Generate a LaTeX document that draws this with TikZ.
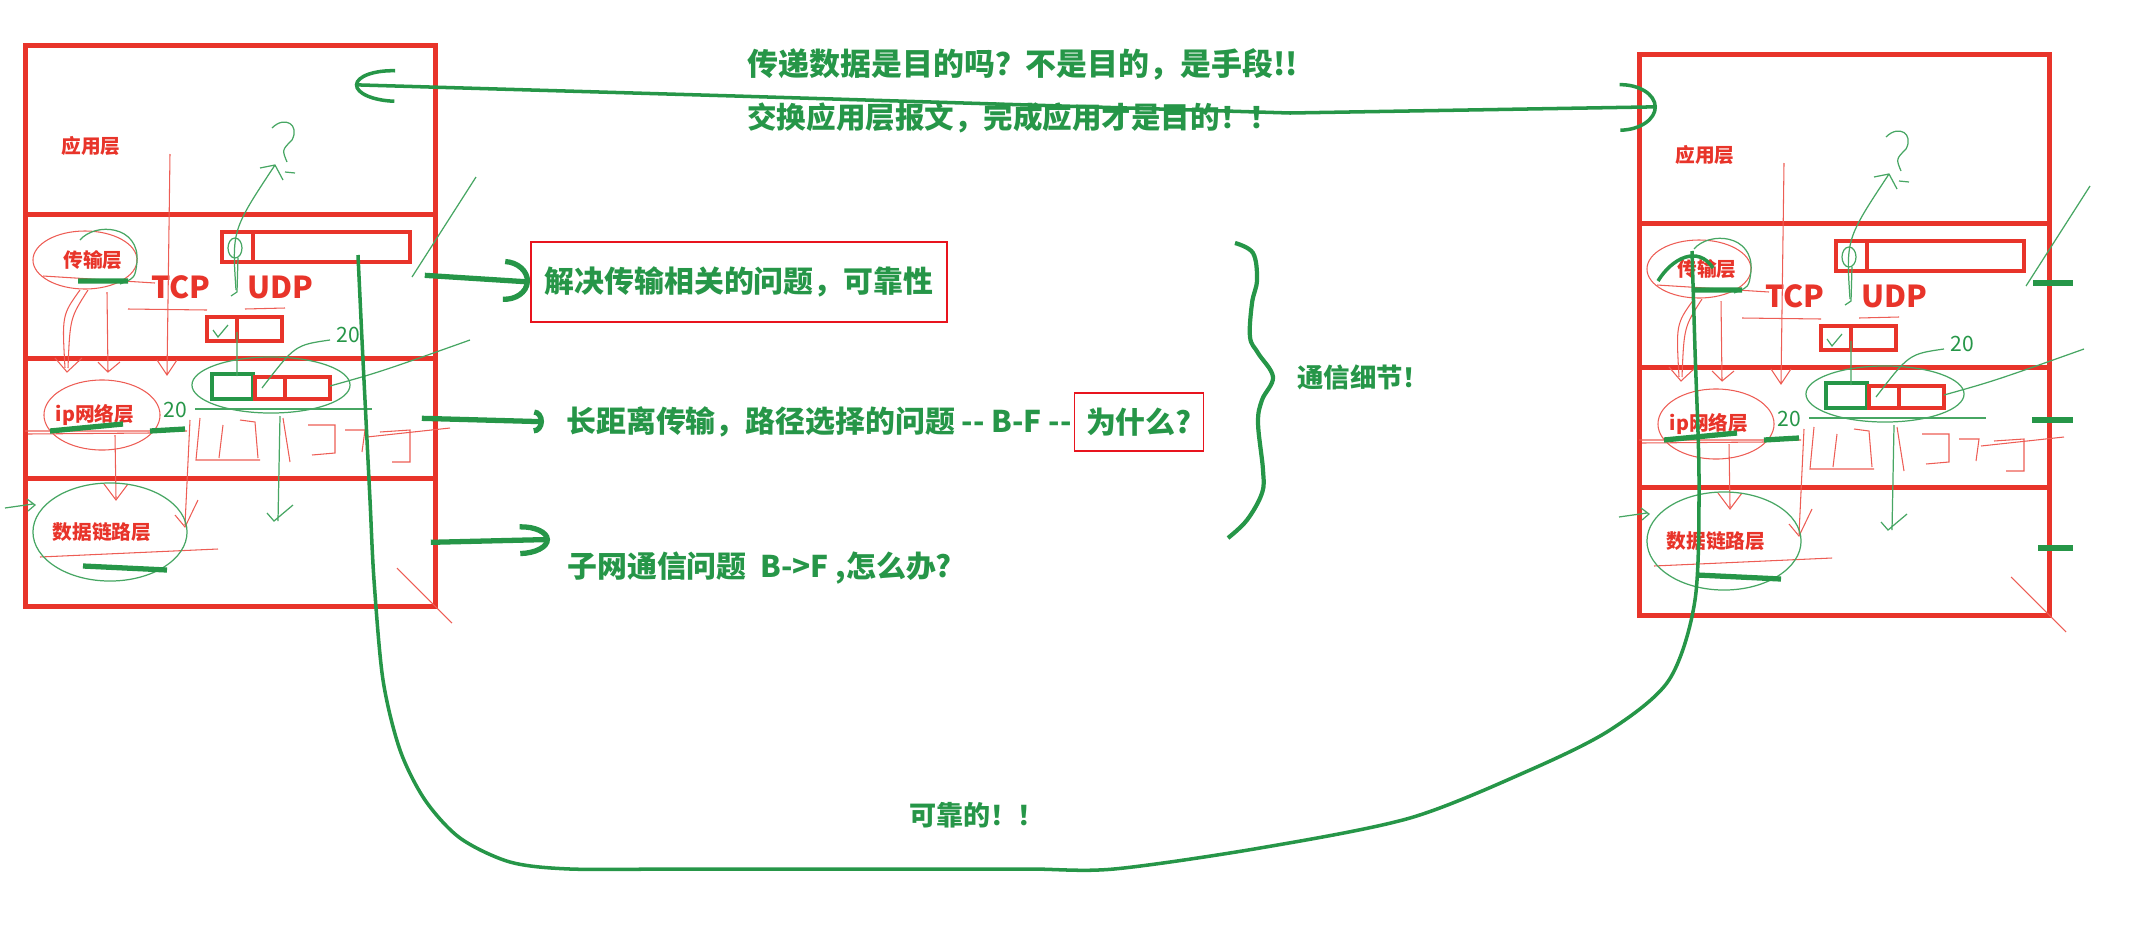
\documentclass[tikz,border=0pt]{standalone}
\usepackage{fontspec}
\setmainfont{Noto Sans CJK SC}
\usetikzlibrary{positioning,arrows.meta}

\definecolor{brick}{RGB}{232,52,42}
\definecolor{pen}{RGB}{38,150,72}
\definecolor{boxred}{RGB}{232,20,30}

\tikzset{
  layer/.style={rectangle,draw=brick,line width=1.3pt,minimum width=4.1cm,anchor=north west,inner sep=0pt},
  lyrtext/.style={text=brick,font=\fontsize{5.6}{6}\selectfont\bfseries},
  proto/.style={text=brick,font=\fontsize{8.6}{9}\selectfont\bfseries},
  cell/.style={draw=brick,line width=1pt},
  note/.style={text=pen,font=\fontsize{8.5}{9}\selectfont\bfseries},
  ink/.style={draw=pen,line width=1pt},
  stroke/.style={draw=pen,line width=1.5pt},
  scrib/.style={draw=brick!80,line width=0.3pt},
  scribg/.style={draw=pen!85,line width=0.35pt},
  hand/.style={text=pen,font=\fontsize{6}{6}\selectfont},
}

\begin{document}
\begin{tikzpicture}[x=0.01cm,y=-0.01cm]
  \useasboundingbox (0,0) rectangle (2133,951);

  % the two protocol stacks
  \foreach \side/\dx/\dy in {L/0/0,R/1614/9}{
    \begin{scope}[shift={(\dx,\dy)}]
      \node[layer,minimum height=1.69cm] (app\side) at (23,43) {};
      \node[layer,minimum height=1.44cm] (tr\side) at (23,212) {};
      \node[layer,minimum height=1.2cm] (ip\side) at (23,356) {};
      \node[layer,minimum height=1.28cm] (dl\side) at (23,476) {};

      \node[lyrtext] (appT\side) at (91,146) {应用层};
      \node[lyrtext] (trT\side) at (93,260) {传输层};
      \node[lyrtext] (ipT\side) at (95,415) {ip网络层};
      \node[lyrtext] (dlT\side) at (102,532) {数据链路层};
      \node[proto] (tcp\side) at (181,287) {TCP};
      \node[proto] (udp\side) at (280,287) {UDP};

      % headers
      \draw[cell] (222,232) rectangle (410,262) (253,232) -- (253,262);
      \draw[cell] (207,317) rectangle (282,341) (237,317) -- (237,341);
      \draw[draw=pen,line width=1.2pt] (212,374) rectangle (253,399);
      \draw[cell] (255,377) rectangle (330,399) (285,377) -- (285,399);

      % red pen
      \draw[scrib] (170,154) -- (167,375) (157,360) -- (167,375) -- (177,360);
      \draw[scrib] (85,260) ellipse (0.52cm and 0.29cm);
      \draw[scrib] (80,290) .. controls (62,315) .. (65,368);
      \draw[scrib] (88,290) .. controls (70,318) .. (68,368);
      \draw[scrib] (55,358) -- (67,372) -- (82,358);
      \draw[scrib] (107,292) -- (108,372) (98,362) -- (108,372) -- (120,362);
      \draw[scrib] (43,276) -- (155,283) (128,309) -- (207,310) (245,309) -- (285,308);
      \draw[scrib] (102,415) ellipse (0.58cm and 0.35cm);
      \draw[scrib] (25,431) -- (187,431) (28,434) -- (150,433);
      \draw[scrib] (200,418) -- (196,460) -- (260,460) (223,425) -- (219,458) (240,420) -- (255,422) -- (258,458);
      \draw[scrib] (283,418) -- (290,462) (308,425) -- (335,425) -- (335,453) -- (312,455);
      \draw[scrib] (345,430) -- (365,430) -- (362,452) (380,432) -- (410,430) -- (410,462) -- (392,462);
      \draw[scrib] (367,437) -- (450,428);
      \draw[scrib] (115,435) -- (116,498) (104,484) -- (116,500) -- (128,484);
      \draw[scrib] (190,420) -- (185,525) (175,515) -- (185,527) -- (198,500);
      \draw[scrib] (40,557) -- (218,549) (397,568) -- (452,623);

      % green pen
      \draw[scribg] (110,532) ellipse (0.77cm and 0.49cm);
      \draw[scribg] (80,240) .. controls (95,222) and (140,225) .. (137,262) .. controls (135,278) .. (120,284);
      \draw[scribg] (236,290) .. controls (232,230) .. (275,165) (260,168) -- (275,165) -- (283,180);
      \draw[scribg] (272,128) .. controls (285,115) and (300,125) .. (292,140) .. controls (282,150) .. (287,162) (285,172) -- (295,173);
      \draw[scribg] (235,248) ellipse (0.07cm and 0.1cm);
      \draw[scribg] (238,258) -- (237,292) -- (231,296) (237,332) -- (237,376);
      \draw[scribg] (213,330) -- (218,337) -- (228,325);
      \node[hand] (twentyA\side) at (348,335) {20};
      \node[hand] (twentyB\side) at (175,410) {20};
      \draw[scribg] (330,340) .. controls (295,345) .. (262,388);
      \draw[scribg] (271,385) ellipse (0.79cm and 0.28cm);
      \draw[scribg] (195,409) -- (372,409);
      \draw[scribg] (280,416) -- (278,521) (267,513) -- (274,521) -- (293,505);
      \draw[scribg] (330,386) .. controls (380,372) .. (470,340);
      \draw[scribg] (412,277) -- (476,177);
      \draw[scribg] (5,508) -- (33,504) (27,499) -- (35,505) -- (28,511);
      \draw[stroke] (78,281) -- (128,281) (50,431) -- (123,424) (150,431) -- (185,429) (83,566) -- (167,570);
    \end{scope}
  }

  % texts
  \node[note,font=\fontsize{8.8}{9}\selectfont\bfseries,anchor=west] (why) at (735,64) {传递数据是目的吗？不是目的，是手段!!};
  \node[note,font=\fontsize{8.4}{9}\selectfont\bfseries,anchor=west] (goal) at (735,118) {交换应用层报文，完成应用才是目的！！};
  \node[note,draw=boxred,line width=0.5pt,minimum width=4.16cm,minimum height=0.8cm] (rel) at (739,282) {解决传输相关的问题，可靠性};
  \node[note,anchor=west] (route) at (554,422) {长距离传输，路径选择的问题 -{}- B-F -{}-};
  \node[note,draw=boxred,line width=0.5pt,minimum width=1.18cm,minimum height=0.58cm,right=-3pt of route] (whyq) {为什么?};
  \node[note,anchor=west] (subnet) at (555,568) {子网通信问题\ \ B->F ,怎么办?};
  \node[note,font=\fontsize{7.7}{8}\selectfont\bfseries] (reliable) at (977,815) {可靠的！！};

  % arrows to the notes
  \draw[stroke,-{Arc Barb[length=2.6mm,width=4.3mm]}] ([xshift=-0.13cm,yshift=0.11cm]trL.east) -- (rel.west);
  \draw[stroke,-{Arc Barb[length=1mm,width=2.4mm]},shorten >=0.1cm] ([xshift=-0.16cm]ipL.east) -- (route.west);
  \draw[stroke,-{Arc Barb[length=3mm,width=3.2mm]},shorten >=0.05cm] ([xshift=-0.07cm]dlL.east) -- (subnet.north west);
  \draw[stroke] (2033,283) -- (2073,283) (2032,420) -- (2073,420) (2038,548) -- (2073,548);

  % brace
  \draw[ink,line width=1.2pt] plot[smooth,tension=0.6] coordinates {(1235,243) (1253,253) (1257,280) (1252,303) (1250,337) (1258,353) (1273,377) (1262,400) (1258,423) (1263,470) (1262,493) (1247,520) (1228,538)};
  \coordinate (braceTip) at (1273,377);
  \node[note,font=\fontsize{7.5}{8}\selectfont\bfseries,right=0.12cm of braceTip] (detail) {通信细节！};

  % app to app
  \draw[ink,{Arc Barb[length=4mm,width=3.4mm]}-{Arc Barb[length=3.7mm,width=4.9mm]}] ([xshift=-0.83cm,yshift=0.45cm]appL.east) -- (735,96) -- (1290,113) -- ([xshift=0.2cm,yshift=0.32cm]appR.west);

  % reliable path
  \coordinate (bitL) at (358,255);
  \coordinate (bitR) at (1692,251);
  \draw[ink] plot[smooth,tension=0.5] coordinates {(bitL) (362,340) (366,420) (370,500) (374,580) (383,680) (400,750) (425,800) (460,838) (510,862) (570,869) (680,869) (800,869) (920,869) (1030,869) (1114,869) (1260,848) (1410,818) (1530,770) (1610,730) (1669,680) (1695,600) (1699,480) (1695,350) (bitR)};
  \draw[ink] (1658,281) .. controls (1672,258) and (1698,245) .. (1713,268);
\end{tikzpicture}
\end{document}
